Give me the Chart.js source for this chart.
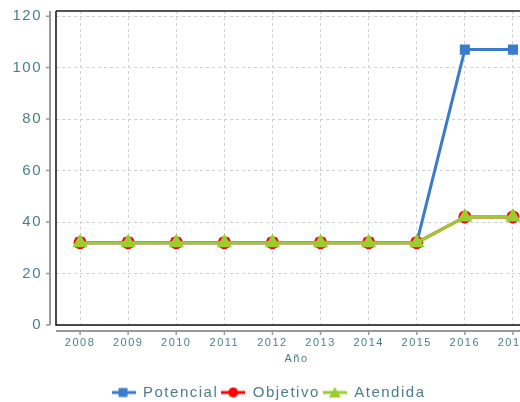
<!DOCTYPE html>
<html>
<head>
<meta charset="utf-8">
<script src="https://cdn.jsdelivr.net/npm/chart.js@4"></script>
<style>
  html, body { margin: 0; padding: 0; overflow: hidden; background: #fff; }
  #wrap { width: 572px; height: 414px; margin-top: -12px; }
</style>
</head>
<body>
<div id="wrap"><canvas id="chart" width="572" height="414"></canvas></div>
<script>
// data
const years = ['2008', '2009', '2010', '2011', '2012', '2013', '2014', '2015', '2016', '2017'];
const potencial = [32, 32, 32, 32, 32, 32, 32, 32, 107, 107];
const objetivo = [32, 32, 32, 32, 32, 32, 32, 32, 42, 42];
const atendida = [32, 32, 32, 32, 32, 32, 32, 32, 42, 42];
const yTicks = [0, 20, 40, 60, 80, 100, 120];

const labelColor = '#4d7d8c';

// legend icon: short line with the marker in the middle
function makeIcon(color, style) {
    const c = document.createElement('canvas');
    c.width = 24; c.height = 14;
    const g = c.getContext('2d');
    g.strokeStyle = color;
    g.fillStyle = color;
    g.lineWidth = 3;
    g.beginPath();
    g.moveTo(0, 7); g.lineTo(24, 7);
    g.stroke();
    g.beginPath();
    if (style === 'rect') {
        g.rect(7, 2.5, 9, 9);
    } else if (style === 'circle') {
        g.arc(12, 7, 5, 0, Math.PI * 2);
    } else {
        g.moveTo(12, 1.5); g.lineTo(18, 12); g.lineTo(6, 12); g.closePath();
    }
    g.fill();
    return c;
}

// frame of the plot plus the grey axes set a bit away from it
const framePlugin = {
    id: 'frame',
    beforeUpdate(chart) {
        chart.ctx.letterSpacing = '1.5px';
    },
    afterDraw(chart) {
        const ctx = chart.ctx;
        const a = chart.chartArea;
        const x = chart.scales.x, y = chart.scales.y;
        ctx.save();
        // plot frame
        ctx.lineWidth = 2;
        ctx.strokeStyle = '#555';
        ctx.beginPath();
        ctx.moveTo(a.left, a.top); ctx.lineTo(a.right, a.top);
        ctx.stroke();
        ctx.lineWidth = 1.5;
        ctx.strokeStyle = '#111';
        ctx.beginPath();
        ctx.moveTo(a.left, a.top); ctx.lineTo(a.left, a.bottom); ctx.lineTo(a.right, a.bottom);
        ctx.stroke();
        // grey axes
        ctx.strokeStyle = '#999';
        ctx.lineWidth = 2;
        ctx.beginPath();
        ctx.moveTo(a.left - 6, a.top); ctx.lineTo(a.left - 6, y.getPixelForValue(0));
        ctx.moveTo(a.left, a.bottom + 6); ctx.lineTo(a.right, a.bottom + 6);
        ctx.stroke();
        ctx.lineWidth = 1.5;
        ctx.beginPath();
        yTicks.forEach(v => {
            const py = y.getPixelForValue(v);
            ctx.moveTo(a.left - 10, py); ctx.lineTo(a.left - 6, py);
        });
        years.forEach((lab, i) => {
            const px = x.getPixelForValue(i);
            ctx.moveTo(px, a.bottom + 6); ctx.lineTo(px, a.bottom + 10);
        });
        ctx.stroke();
        ctx.restore();
    }
};

const ctx = document.getElementById('chart').getContext('2d');
new Chart(ctx, {
    type: 'line',
    data: {
        labels: years,
        datasets: [{
            label: 'Potencial',
            data: potencial,
            borderColor: '#3b7bcc',
            backgroundColor: '#3b7bcc',
            borderWidth: 3,
            pointStyle: 'rect',
            pointRadius: 5,
            order: 2
        }, {
            label: 'Objetivo',
            data: objetivo,
            borderColor: '#ff0000',
            backgroundColor: '#ff0000',
            borderWidth: 3,
            pointStyle: 'circle',
            pointRadius: 5,
            order: 1
        }, {
            label: 'Atendida',
            data: atendida,
            borderColor: '#9acd32',
            backgroundColor: '#9acd32',
            borderWidth: 3,
            pointStyle: 'triangle',
            pointRadius: 6,
            order: 0
        }]
    },
    options: {
        responsive: false,
        animation: false,
        layout: { padding: { top: 0, right: 35, left: 0, bottom: -8 } },
        elements: { point: { borderWidth: 0, hoverRadius: 5 }, line: { tension: 0 } },
        scales: {
            x: {
                offset: true,
                grid: { offset: false, color: '#d0d0d0', lineWidth: 1, drawTicks: false },
                border: { display: false, dash: [3, 3] },
                ticks: { color: labelColor, font: { family: 'Liberation Sans', size: 11 }, padding: 11, maxRotation: 0, autoSkip: false },
                title: { display: true, text: 'Año', color: labelColor, font: { family: 'Liberation Sans', size: 11 }, padding: { top: 0, bottom: 16 } },
                afterFit(s) { s.height = 57; }
            },
            y: {
                min: 0,
                max: 122,
                grid: { color: '#d0d0d0', lineWidth: 1, drawTicks: false },
                border: { display: false, dash: [3, 3] },
                ticks: { stepSize: 20, color: labelColor, font: { family: 'Liberation Sans', size: 15 }, padding: 14 },
                afterBuildTicks(s) { s.ticks = yTicks.map(v => ({ value: v })); },
                afterFit(s) { s.width = 56; }
            }
        },
        plugins: {
            tooltip: { enabled: false },
            legend: {
                position: 'bottom',
                labels: {
                    usePointStyle: true,
                    pointStyleWidth: 24,
                    color: labelColor,
                    font: { family: 'Liberation Sans', size: 15 },
                    padding: 3,
                    generateLabels(chart) {
                        const styles = ['rect', 'circle', 'triangle'];
                        return chart.data.datasets.map((d, i) => ({
                            text: d.label,
                            pointStyle: makeIcon(d.borderColor, styles[i]),
                            fontColor: labelColor,
                            datasetIndex: i,
                            hidden: false,
                            lineWidth: 0
                        }));
                    }
                }
            }
        }
    },
    plugins: [framePlugin]
});
</script>
</body>
</html>
